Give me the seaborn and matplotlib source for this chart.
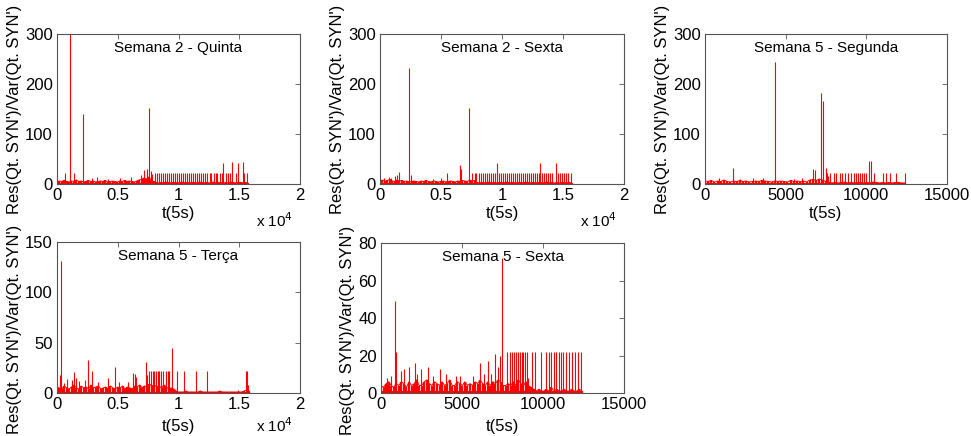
import numpy as np
import seaborn as sns
import matplotlib.pyplot as plt

# ---------------------------------------------------------------- data ------
ylab = "Res(Qt. SYN')/Var(Qt. SYN')"
xlab = 't(5s)'
titles = ['Semana 2 - Quinta', 'Semana 2 - Sexta', 'Semana 5 - Segunda',
          'Semana 5 - Terça', 'Semana 5 - Sexta']
ends = [15700, 15700, 12400, 15800, 12400]          # last sample of each day
xmax = [20000, 20000, 15000, 20000, 15000]
ymax = [300, 300, 300, 150, 80]
ysteps = [100, 100, 100, 50, 20]

# background noise (heights at evenly spaced samples up to the end of the day)
s2_qui_noise = [4, 6, 5, 7, 5, 4, 6, 5, 8, 5, 6, 4, 5, 7, 5, 6, 4, 5, 6, 5,
                7, 4, 5, 6, 5, 4, 6, 5, 7, 5, 6, 5, 4, 6, 8, 9, 12, 10, 14, 8,
                5, 3, 2, 3, 2, 4, 3, 2, 3, 3, 2, 3, 4, 2, 3, 2, 3, 3, 2, 4,
                3, 2, 3, 2, 3, 4, 2, 3, 3, 2, 3, 2, 4, 3, 2, 3, 3, 2, 3, 2]
s2_sex_noise = [6, 8, 5, 7, 9, 6, 5, 8, 6, 7, 5, 6, 4, 5, 6, 5, 4, 6, 5, 7,
                5, 4, 6, 5, 4, 5, 6, 4, 5, 6, 5, 4, 6, 5, 7, 6, 5, 8, 6, 7,
                3, 2, 3, 2, 3, 4, 2, 3, 2, 3, 3, 2, 4, 3, 2, 3, 2, 3, 3, 2,
                4, 3, 2, 3, 2, 3, 3, 2, 3, 4, 2, 3, 2, 3, 2, 3, 3, 2, 3, 2]
s5_seg_noise = [6, 5, 7, 4, 6, 5, 8, 5, 4, 6, 5, 7, 5, 6, 4, 5, 6, 5, 7, 6,
                5, 4, 6, 5, 6, 5, 4, 7, 5, 6, 5, 6, 4, 8, 9, 7, 10, 8,
                5, 3, 2, 3, 2, 3, 4, 2, 3, 2, 3, 3, 2, 3, 2, 4, 3, 2, 3, 2,
                3, 2, 3, 3, 2, 2]
s5_ter_noise = [6, 5, 4, 7, 5, 4, 6, 8, 5, 4, 7, 5, 6, 4, 8, 5, 6, 7, 4, 5,
                6, 4, 7, 5, 4, 6, 5, 7, 4, 6, 5, 4, 7, 6, 8, 5, 7, 6, 9, 7,
                8, 6, 7, 5, 8, 6, 4, 5, 4, 2,
                1, 1, 1, 2, 1, 1, 1, 1, 1, 2, 1, 1, 1, 1, 1, 1, 1, 2, 1, 1,
                1, 1, 1, 1, 1, 1, 1, 2, 3, 2]
s5_sex_noise = [4, 3, 5, 6, 4, 3, 5, 4, 6, 5, 3, 6, 4, 5, 7, 4, 4, 6, 7, 5,
                4, 6, 5, 4, 6, 4, 5, 7, 4, 4, 6, 5, 4, 6, 4, 5, 4, 6, 5, 7,
                5, 4, 6, 4, 6, 5, 7, 6, 4, 4, 5, 4, 6, 4, 7, 5, 4, 6, 4, 3,
                2, 1, 2, 1, 1, 2, 1, 3, 1, 2, 1, 1, 2, 1, 1, 2, 1, 1, 2, 1]

# isolated peaks: time and height
s2_qui_pk_t = [660, 1070, 1400, 2110, 2900, 3300, 4200, 5200, 6100, 6900,
               7200, 7400, 7540, 7700, 7800, 13690, 14380, 14920, 15280]
s2_qui_pk_h = [22, 320, 22, 140, 12, 14, 10, 12, 14, 18,
               28, 30, 153, 25, 20, 42, 43, 42, 43]
s2_sex_pk_t = [300, 700, 900, 1250, 1350, 1560, 2350, 2550, 4300, 5000,
               5490, 6560, 6650, 7320, 9560, 13110, 14400]
s2_sex_pk_h = [12, 14, 12, 16, 18, 24, 233, 18, 10, 12,
               22, 37, 30, 152, 42, 42, 42]
s5_seg_pk_t = [300, 900, 1720, 2200, 3000, 3600, 4320, 5500, 6000, 6710,
               6800, 7210, 7290, 7500, 7600, 10150, 10290]
s5_seg_pk_h = [8, 12, 32, 10, 12, 12, 245, 10, 12, 30,
               27, 183, 167, 32, 15, 45, 45]
s5_ter_pk_t = [250, 330, 600, 850, 1220, 1430, 1570, 1800, 2300, 2580,
               2870, 3360, 4180, 4810, 5140, 5820, 6280, 6420, 6500, 7300,
               7400, 9490, 14900, 15750]
s5_ter_pk_h = [18, 131, 10, 14, 13, 21, 15, 12, 13, 33,
               22, 11, 15, 26, 11, 11, 20, 19, 16, 31,
               18, 45, 3, 8]
s5_sex_pk_t = [391, 638, 864, 926, 1214, 1420, 1708, 2080, 2243, 2490,
               2901, 3210, 3622, 4033, 4650, 4856, 5680, 6091, 6358, 6605,
               6811, 7058, 7223, 7325, 7450, 8600, 9100, 10800]
s5_sex_pk_h = [8, 9, 49, 22, 12, 13, 14, 16, 10, 13,
               14, 9, 13, 10, 9, 9, 9, 16, 10, 17,
               10, 21, 14, 20, 72, 10, 8, 10]

# repeated plateau spikes (all at the same level within a day)
rep_level = [21, 21, 22, 22, 22]
s2_qui_rep = [8070, 8250, 8400, 8560, 8720, 8900, 9050, 9230, 9400, 9550,
              9700, 9880, 10050, 10200, 10380, 10550, 10700, 10870, 11050,
              11200, 11380, 11550, 11700, 11880, 12050, 12200, 12380, 12550,
              12700, 12880, 13050, 13200, 13380, 13550, 13880, 14050, 14200,
              14700, 15400, 15640]
s2_sex_rep = [7560, 7750, 7900, 8080, 8240, 8400, 8570, 8730, 8900, 9060,
              9230, 9390, 9720, 9880, 10050, 10210, 10380, 10540, 10700,
              10870, 11030, 11200, 11360, 11530, 11690, 11860, 12020, 12190,
              12350, 12520, 12680, 12850, 13010, 13280, 13450, 13610, 13780,
              13940, 14110, 14580, 14750, 14910, 15080, 15240, 15410, 15680]
s5_seg_rep = [7562, 7769, 7975, 8140, 8346, 8511, 8678, 8884, 9070, 9214,
              9338, 9462, 9586, 9710, 9834, 9958, 10497, 11033, 11240, 11488,
              11860, 12378]
s5_ter_rep = [7600, 7737, 7874, 8011, 8148, 8285, 8422, 8560, 8752, 8944,
              9108, 9245, 9848, 10480, 11440, 12320, 15530, 15670]
s5_sex_rep = [7798, 7963, 8107, 8231, 8333, 8457, 8580, 8683, 8786, 8889,
              9033, 9300, 9527, 9897, 10165, 10350, 10493, 10658, 10823,
              10967, 11132, 11255, 11440, 11605, 11790, 11996, 12160, 12345]

noises = [s2_qui_noise, s2_sex_noise, s5_seg_noise, s5_ter_noise, s5_sex_noise]
peaks_t = [s2_qui_pk_t, s2_sex_pk_t, s5_seg_pk_t, s5_ter_pk_t, s5_sex_pk_t]
peaks_h = [s2_qui_pk_h, s2_sex_pk_h, s5_seg_pk_h, s5_ter_pk_h, s5_sex_pk_h]
reps = [s2_qui_rep, s2_sex_rep, s5_seg_rep, s5_ter_rep, s5_sex_rep]

# ---------------------------------------------------------------- plot ------
sns.set_style('white')
plt.rcParams['font.family'] = ['Liberation Sans', 'DejaVu Sans']
plt.rcParams['text.color'] = 'black'
plt.rcParams['axes.labelcolor'] = 'black'

fig = plt.figure(figsize=(9.71, 4.36), dpi=100)
boxes = [(0.0587, 0.578, 0.2503, 0.344), (0.3914, 0.578, 0.2513, 0.344),
         (0.7260, 0.578, 0.2492, 0.344), (0.0587, 0.0986, 0.2503, 0.3463),
         (0.3924, 0.0986, 0.2503, 0.344)]
red = '#ff0000'

for i, box in enumerate(boxes):
    top_row = i < 3
    ax = fig.add_axes(box)
    nt = np.linspace(0, ends[i], len(noises[i]))
    ax.vlines(nt, 0, noises[i], color=red, lw=1.6)
    sns.lineplot(x=nt, y=noises[i], color=red, lw=0.7, ax=ax)
    ax.vlines(reps[i], 0, rep_level[i], color=red, lw=0.8)
    ax.vlines(peaks_t[i], 0, peaks_h[i], color=red, lw=0.8)
    ax.hlines(0.4, 0, ends[i], color=red, lw=1.5)

    ax.set_xlim(0, xmax[i])
    ax.set_ylim(0, ymax[i])
    ax.set_yticks(np.arange(0, ymax[i] + 1, ysteps[i]))
    if xmax[i] == 20000:
        ax.set_xticks([0, 5000, 10000, 15000, 20000])
        ax.set_xticklabels(['0', '0.5', '1', '1.5', '2'])
        ax.text(0.972, -0.185 if top_row else -0.152, r'x 10$^4$',
                transform=ax.transAxes, ha='right', va='top', fontsize=11)
    else:
        ax.set_xticks([0, 5000, 10000, 15000])
    ax.tick_params(direction='in', top=True, right=True, length=3.5,
                   width=0.6, color='#555555', labelcolor='black',
                   labelsize=12, pad=3)
    for sp in ax.spines.values():
        sp.set_color('#555555')
        sp.set_linewidth(0.8)
    ax.set_xlabel(xlab, fontsize=12, labelpad=2 if top_row else 5)
    ax.set_ylabel(ylab, fontsize=12, labelpad=2)
    if not top_row:
        ax.yaxis.label.set_y(0.42)
    ax.text(0.5, 0.905, titles[i], transform=ax.transAxes,
            ha='center', va='center', fontsize=11)

plt.savefig('out.png', dpi=100)
